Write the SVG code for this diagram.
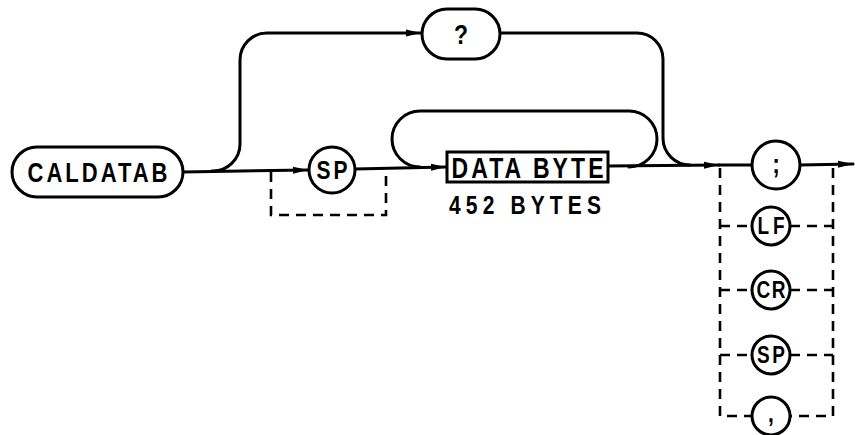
<svg xmlns="http://www.w3.org/2000/svg" width="855" height="435" viewBox="0 0 855 435">
<defs>
<marker id="arr" markerUnits="userSpaceOnUse" markerWidth="16" markerHeight="10" refX="15" refY="5" orient="auto">
<path d="M0,1.5 L15,5 L0,8.5 z" fill="#000"/>
</marker>
<style>
.ln{fill:none;stroke:#000;stroke-width:3;stroke-linecap:round;stroke-linejoin:round}
.ds{fill:none;stroke:#000;stroke-width:2.6;stroke-dasharray:10 7}
.nd{fill:#fff;stroke:#000;stroke-width:3}
.tx{font-family:"Liberation Sans","DejaVu Sans",sans-serif;font-weight:bold;fill:#000;text-anchor:middle}
</style>
</defs>
<rect width="855" height="435" fill="#fff"/>
<g id="connectors">
<path class="ln" d="M183 172 L308 170" marker-end="url(#arr)"/>
<path class="ln" d="M212 171 A27 27 0 0 0 240 144 L240 60 A27 27 0 0 1 267 33 L421 33" marker-end="url(#arr)"/>
<path class="ln" d="M500 33 L637 33 A26 26 0 0 1 663 59 L663 138 A27 27 0 0 0 690 165"/>
<path class="ds" d="M271 172 L271 215 L386 215 L386 170"/>
<path class="ln" d="M355 169 L446 167" marker-end="url(#arr)"/>
<path class="ln" d="M420 167 A28 28 0 0 1 420 111 L629 111 A28 28 0 0 1 629 167"/>
<path class="ln" d="M608 166 L719 165" marker-end="url(#arr)"/>
<path class="ln" d="M719 165 L752 165"/>
<path class="ln" d="M800 165 L853 164" marker-end="url(#arr)"/>
<path class="ds" d="M720 168 L720 416 L752 416"/>
<path class="ds" d="M833 168 L833 416 L790 416"/>
<path class="ds" d="M720 226 L752 226 M790 226 L833 226"/>
<path class="ds" d="M720 290 L752 290 M790 290 L833 290"/>
<path class="ds" d="M720 355 L752 355 M790 355 L833 355"/>
</g>
<g id="n-caldatab">
<rect class="nd" x="12" y="147" width="171" height="50" rx="25"/>
<text class="tx" transform="translate(97.5,182) scale(1,1.25)" font-size="22" textLength="140" lengthAdjust="spacing">CALDATAB</text>
</g>
<g id="n-query">
<rect class="nd" x="422" y="9" width="78" height="50" rx="25"/>
<text class="tx" transform="translate(461,44) scale(1,1.2)" font-size="23">?</text>
</g>
<g id="n-sp1">
<circle class="nd" cx="332" cy="170" r="23"/>
<text class="tx" transform="translate(332,179) scale(1,1.25)" font-size="21" textLength="31" lengthAdjust="spacing">SP</text>
</g>
<g id="n-databyte">
<rect class="nd" x="447" y="152" width="161" height="30" stroke-width="2.6"/>
<text class="tx" transform="translate(527.5,178) scale(1,1.25)" font-size="23" textLength="152" lengthAdjust="spacing">DATA BYTE</text>
<text class="tx" transform="translate(525,214) scale(1,1.25)" font-size="21" textLength="152" lengthAdjust="spacing">452 BYTES</text>
</g>
<g id="n-semicolon">
<circle class="nd" cx="776" cy="165" r="24"/>
<text class="tx" transform="translate(776,173) scale(1,1.2)" font-size="23">;</text>
</g>
<g id="n-lf">
<circle class="nd" cx="771" cy="226" r="19"/>
<text class="tx" transform="translate(771,234) scale(1,1.25)" font-size="19" textLength="27" lengthAdjust="spacing">LF</text>
</g>
<g id="n-cr">
<circle class="nd" cx="771" cy="290" r="19"/>
<text class="tx" transform="translate(771,298) scale(1,1.25)" font-size="19" textLength="29" lengthAdjust="spacing">CR</text>
</g>
<g id="n-sp2">
<circle class="nd" cx="771" cy="355" r="19"/>
<text class="tx" transform="translate(771,363) scale(1,1.25)" font-size="19" textLength="28" lengthAdjust="spacing">SP</text>
</g>
<g id="n-comma">
<circle class="nd" cx="771" cy="416" r="19"/>
<text class="tx" transform="translate(771,422) scale(1,1.2)" font-size="21">,</text>
</g>
</svg>
